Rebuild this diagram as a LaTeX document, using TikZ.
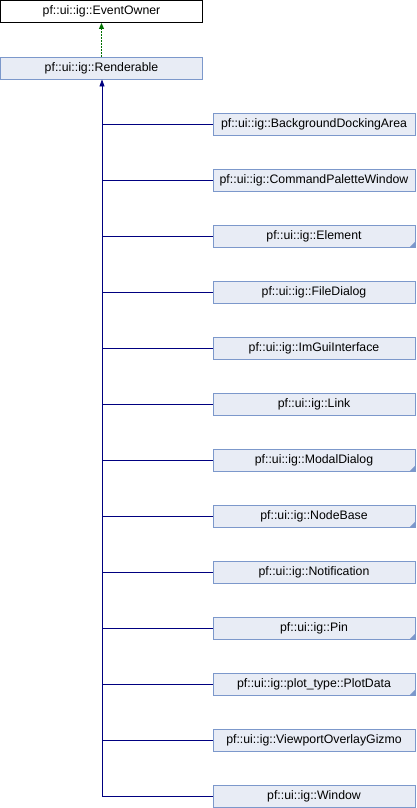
\documentclass[tikz,border=0pt]{standalone}
\usepackage{fontspec}
\setmainfont{Liberation Sans}
\usetikzlibrary{arrows.meta}
\definecolor{boxfill}{HTML}{E8ECF5}
\definecolor{boxline}{HTML}{7C98CB}
\definecolor{navy}{HTML}{000080}
\definecolor{dgreen}{HTML}{007000}
\tikzset{
  cls/.style={draw=boxline, fill=boxfill, line width=0.9bp, minimum width=202bp, minimum height=22bp, inner sep=0pt, font=\fontsize{12.3bp}{14bp}\selectfont},
  top/.style={draw=black, fill=white, line width=0.9bp, minimum width=202bp, minimum height=22bp, inner sep=0pt, font=\fontsize{12.3bp}{14bp}\selectfont},
  inh/.style={draw=navy, line width=0.9bp},
  corner/.style={fill=boxline},
}
\newcommand{\mycorner}[1]{\fill[corner] ([xshift=-0.5bp,yshift=0.5bp]#1.south east) -- ++(-5bp,0) -- ++(5bp,5bp) -- cycle;}
\begin{document}
\begin{tikzpicture}[x=1bp,y=-1bp]
\useasboundingbox (0,0) rectangle (416,808);
\node[top] (eo) at (101.5,11.5) {pf::ui::ig::EventOwner};
\node[cls] (rd) at (101.5,68) {pf::ui::ig::Renderable};
\draw[draw=dgreen, line width=0.9bp, dash pattern=on 1.5bp off 1.5bp, -{Triangle[length=6bp,width=5bp,fill=dgreen]}] (rd.north) -- (eo.south);
\foreach \n/\t [count=\i from 0] in {
  c0/BackgroundDockingArea, c1/CommandPaletteWindow, c2/Element, c3/FileDialog,
  c4/ImGuiInterface, c5/Link, c6/ModalDialog, c7/NodeBase, c8/Notification,
  c9/Pin, c10/plot\_type::PlotData, c11/ViewportOverlayGizmo, c12/Window} {
  \node[cls] (\n) at (314,124+56*\i) {pf::ui::ig::\t};
}
\coordinate (bend) at (102,796);
\draw[inh, -{Triangle[length=7bp,width=5bp]}] (c12.west) -- (bend) -- (rd.south -| bend);
\foreach \n in {c0,c1,c2,c3,c4,c5,c6,c7,c8,c9,c10,c11} {
  \draw[inh] (\n.west) -- (\n.west -| bend);
}
\foreach \n in {c2,c6,c7,c9,c10} { \mycorner{\n} }
\end{tikzpicture}
\end{document}
